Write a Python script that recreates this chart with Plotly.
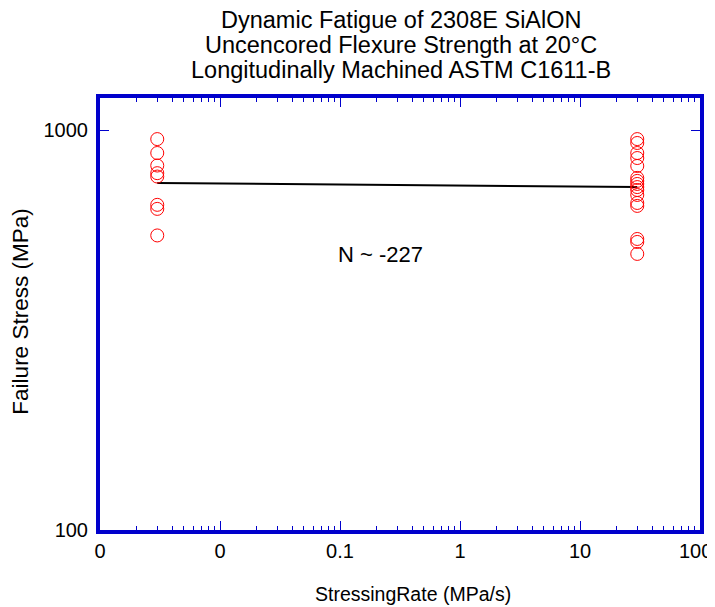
import plotly.graph_objects as go

# Data
rate_low = [0.003] * 8
stress_low = [949, 876, 815, 780, 765, 650, 635, 545]
rate_high = [30] * 16
stress_high = [949, 928, 876, 851, 813, 759, 746, 733, 720, 708, 688, 657, 646, 534, 525, 490]
fit_rate = [0.003, 30]
fit_stress = [737, 720]

x_tickvals = [0.001, 0.01, 0.1, 1, 10, 100]
x_ticktext = ["0", "0", "0.1", "1", "10", "100"]
y_tickvals = [100, 1000]
y_ticktext = ["100", "1000"]

title_lines = ["Dynamic Fatigue of 2308E SiAlON",
               "Uncencored Flexure Strength at 20°C",
               "Longitudinally Machined ASTM C1611-B"]

x_minor = [m * 10 ** e for e in range(-3, 2) for m in range(2, 10)]

blue = "#0000CC"
font = "Liberation Sans, Arial, sans-serif"

fig = go.Figure()
fig.add_trace(go.Scatter(x=fit_rate, y=fit_stress, mode="lines",
                         line=dict(color="black", width=2), showlegend=False))
fig.add_trace(go.Scatter(x=rate_low + rate_high, y=stress_low + stress_high, mode="markers",
                         marker=dict(symbol="circle-open", size=13, color="red", line=dict(width=1)),
                         showlegend=False))

# title lines
for txt, yp in zip(title_lines, [1.1806, 1.1227, 1.0648]):
    fig.add_annotation(x=0.5017, y=yp, xref="paper", yref="paper", text=txt, showarrow=False,
                       xanchor="center", yanchor="middle",
                       font=dict(family=font, size=23.5, color="black"))

# axis titles
fig.add_annotation(x=0.522, y=-0.148, xref="paper", yref="paper", text="StressingRate (MPa/s)",
                   showarrow=False, xanchor="center", yanchor="middle",
                   font=dict(family=font, size=19.5, color="black"))
fig.add_annotation(x=-0.132, y=0.505, xref="paper", yref="paper", text="Failure Stress (MPa)",
                   showarrow=False, textangle=-90, xanchor="center", yanchor="middle",
                   font=dict(family=font, size=22.5, color="black"))

fig.add_annotation(x=0.467, y=0.637, xref="paper", yref="paper", text="N ~ -227", showarrow=False,
                   xanchor="center", yanchor="middle",
                   font=dict(family=font, size=22, color="black"))

# last x tick label, nudged so it stays inside the page edge
fig.add_annotation(x=1.0233, y=-0.0486, xref="paper", yref="paper", text=x_ticktext[-1],
                   showarrow=False, xanchor="right", yanchor="middle",
                   font=dict(family=font, size=20, color="black"))

# page body has an 8px margin, so the figure is a little smaller than the window
fig.update_layout(
    width=707, height=599,
    margin=dict(l=92, r=15, t=90, b=77),
    paper_bgcolor="white", plot_bgcolor="white",
    font=dict(family=font, color="black"),
)

fig.update_xaxes(type="log", range=[-3, 2], showgrid=False, zeroline=False, automargin=False,
                 showline=True, linecolor=blue, linewidth=4, mirror="allticks",
                 ticks="inside", ticklen=9, tickcolor=blue, tickwidth=1,
                 tickmode="array", tickvals=x_tickvals, ticktext=x_ticktext[:-1] + [""],
                 ticklabeloverflow="allow",
                 tickfont=dict(family=font, size=20, color="black"),
                 minor=dict(ticks="inside", ticklen=4, tickcolor=blue, tickwidth=1,
                            tickmode="array", tickvals=x_minor, showgrid=False))
fig.update_yaxes(type="log", range=[2, 3.08], showgrid=False, zeroline=False, automargin=False,
                 showline=True, linecolor=blue, linewidth=4, mirror="allticks",
                 ticks="inside", ticklen=9, tickcolor=blue, tickwidth=1,
                 tickmode="array", tickvals=y_tickvals, ticktext=y_ticktext,
                 ticklabeloverflow="allow", ticklabelstandoff=4,
                 tickfont=dict(family=font, size=20, color="black"))

fig.write_html("out.html")
